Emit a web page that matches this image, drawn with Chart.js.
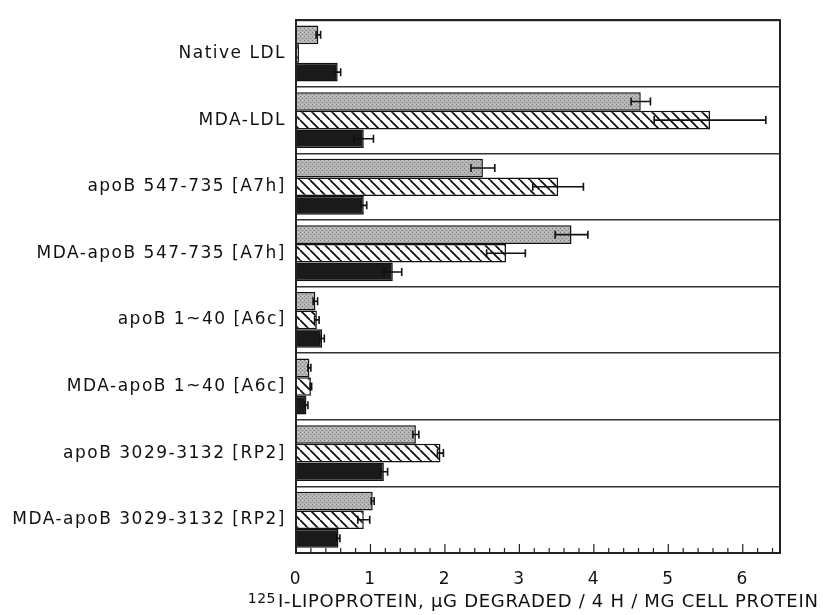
<!DOCTYPE html>
<html>
<head>
<meta charset="utf-8">
<script src="https://cdn.jsdelivr.net/npm/chart.js"></script>
<style>
  html, body { margin: 0; padding: 0; background: #fff; }
  #wrap { width: 823px; height: 615px; }
</style>
</head>
<body>
<div id="wrap"><canvas id="myChart"></canvas></div>
<script>
var categories = ['Native LDL', 'MDA-LDL', 'apoB 547-735 [A7h]', 'MDA-apoB 547-735 [A7h]',
  'apoB 1~40 [A6c]', 'MDA-apoB 1~40 [A6c]', 'apoB 3029-3132 [RP2]', 'MDA-apoB 3029-3132 [RP2]'];

var grayValues   = [0.30, 4.63, 2.51, 3.70, 0.26, 0.18, 1.61, 1.03];
var grayErrors   = [0.03, 0.13, 0.16, 0.22, 0.03, 0.02, 0.04, 0.02];
var hatchValues  = [0.04, 5.56, 3.52, 2.82, 0.28, 0.20, 1.94, 0.91];
var hatchErrors  = [0.00, 0.75, 0.34, 0.26, 0.03, 0.01, 0.04, 0.08];
var blackValues  = [0.56, 0.91, 0.91, 1.30, 0.35, 0.14, 1.18, 0.57];
var blackErrors  = [0.04, 0.13, 0.04, 0.12, 0.03, 0.02, 0.05, 0.02];

var xTicks = [0, 1, 2, 3, 4, 5, 6];
var titleSup = '125';
var titleMain = 'I-LIPOPROTEIN, \u00b5G DEGRADED / 4 H / MG CELL PROTEIN';

// fill patterns
function hatchPattern() {
  var c = document.createElement('canvas');
  c.width = 10; c.height = 10;
  var g = c.getContext('2d');
  g.fillStyle = '#fff';
  g.fillRect(0, 0, 10, 10);
  g.strokeStyle = '#111';
  g.lineWidth = 1.8;
  g.beginPath();
  [-10, 0, 10].forEach(function (o) {
    g.moveTo(o, 0);
    g.lineTo(o + 10, 10);
  });
  g.stroke();
  return g.createPattern(c, 'repeat');
}

function stipplePattern() {
  var c = document.createElement('canvas');
  c.width = 4; c.height = 4;
  var g = c.getContext('2d');
  g.fillStyle = '#b4b4b4';
  g.fillRect(0, 0, 4, 4);
  g.fillStyle = '#7c7c7c';
  g.fillRect(0, 0, 1, 1);
  g.fillRect(2, 2, 1, 1);
  g.fillStyle = '#d0d0d0';
  g.fillRect(2, 0, 1, 1);
  return g.createPattern(c, 'repeat');
}

var errorList = [grayErrors, hatchErrors, blackErrors];

// wide, typewriter-ish spacing of the original lettering
var spacing = {
  id: 'spacing',
  beforeUpdate: function (chart) { chart.ctx.letterSpacing = '1.5px'; },
  beforeDraw: function (chart) { chart.ctx.letterSpacing = '1.5px'; }
};

var errorBars = {
  id: 'errorBars',
  afterDatasetsDraw: function (chart) {
    var c = chart.ctx;
    var xs = chart.scales.x;
    c.save();
    c.strokeStyle = '#111';
    c.lineWidth = 1.6;
    chart.data.datasets.forEach(function (ds, i) {
      var meta = chart.getDatasetMeta(i);
      meta.data.forEach(function (bar, j) {
        var e = errorList[i][j];
        if (!e) return;
        var v = ds.data[j];
        var x1 = xs.getPixelForValue(v - e);
        var x2 = xs.getPixelForValue(v + e);
        var y = bar.y;
        c.beginPath();
        c.moveTo(x1, y); c.lineTo(x2, y);
        c.moveTo(x1, y - 4); c.lineTo(x1, y + 4);
        c.moveTo(x2, y - 4); c.lineTo(x2, y + 4);
        c.stroke();
      });
    });
    c.restore();
  }
};

var frame = {
  id: 'frame',
  afterDraw: function (chart) {
    var c = chart.ctx;
    var a = chart.chartArea;
    var xs = chart.scales.x;
    c.save();
    c.strokeStyle = '#222';
    c.lineWidth = 2;
    c.strokeRect(a.left, a.top, a.right - a.left, a.bottom - a.top);
    c.lineWidth = 1.2;
    c.beginPath();
    for (var k = 0; k <= 32; k++) {
      var x = xs.getPixelForValue(k / 5);
      var len = (k % 5 === 0) ? 9 : 5;
      c.moveTo(x, a.bottom);
      c.lineTo(x, a.bottom - len);
    }
    c.stroke();

    // axis title with the raised isotope number, wider than the plot
    var left = a.left - 18;
    var right = chart.width - 5;
    var base = chart.height - 8;
    c.fillStyle = '#111';
    c.textBaseline = 'alphabetic';
    c.textAlign = 'left';
    c.font = '18px "DejaVu Sans"';
    c.letterSpacing = '0px';
    var w0 = c.measureText(titleMain).width;
    var sp = (right - left - w0) / (titleMain.length - 1);
    c.letterSpacing = sp.toFixed(2) + 'px';
    c.fillText(titleMain, left, base);
    c.font = '14px "DejaVu Sans"';
    c.letterSpacing = '0.5px';
    c.textAlign = 'right';
    c.fillText(titleSup, left - 2, base - 4);
    c.restore();
  }
};

var ctx = document.getElementById('myChart').getContext('2d');
var myChart = new Chart(ctx, {
  type: 'bar',
  data: {
    labels: categories,
    datasets: [{
      data: grayValues,
      backgroundColor: stipplePattern(),
      borderColor: '#111',
      borderWidth: 1.5
    }, {
      data: hatchValues,
      backgroundColor: hatchPattern(),
      borderColor: '#111',
      borderWidth: 1.5
    }, {
      data: blackValues,
      backgroundColor: '#1a1a1a',
      borderColor: '#111',
      borderWidth: 1.5
    }]
  },
  options: {
    indexAxis: 'y',
    responsive: true,
    maintainAspectRatio: false,
    animation: false,
    categoryPercentage: 0.84,
    barPercentage: 1.0,
    layout: { padding: { top: 16, right: 43, bottom: 0, left: 0 } },
    plugins: {
      legend: { display: false },
      tooltip: { enabled: false }
    },
    scales: {
      x: {
        min: 0,
        max: 6.5,
        afterFit: function (s) { s.height = 62; },
        afterBuildTicks: function (s) {
          s.ticks = xTicks.map(function (v) { return { value: v }; });
        },
        grid: { display: false },
        border: { display: false },
        ticks: {
          color: '#111',
          padding: 8,
          font: { family: 'DejaVu Sans', size: 17 }
        }
      },
      y: {
        afterFit: function (s) { s.width = 296; },
        grid: { color: '#333', lineWidth: 1.6, drawTicks: false },
        border: { display: true, color: '#222', width: 2 },
        ticks: {
          color: '#111',
          padding: 10,
          font: { family: 'DejaVu Sans', size: 17 }
        }
      }
    }
  },
  plugins: [spacing, errorBars, frame]
});
</script>
</body>
</html>
